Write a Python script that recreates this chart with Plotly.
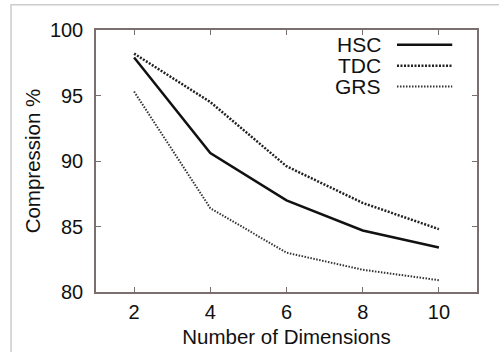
import plotly.graph_objects as go

# Compression percentage versus number of dimensions for three schemes
dimensions = [2, 4, 6, 8, 10]
hsc = [97.9, 90.6, 87.0, 84.7, 83.4]
tdc = [98.2, 94.5, 89.6, 86.8, 84.8]
grs = [95.3, 86.4, 83.0, 81.7, 80.9]

series = [
    ("HSC", hsc, dict(color="#111111", width=2.5, dash="solid")),
    ("TDC", tdc, dict(color="#222222", width=2.5, dash="2px,1.5px")),
    ("GRS", grs, dict(color="#333333", width=2, dash="1.5px,1.5px")),
]

x_ticks = [2, 4, 6, 8, 10]
y_ticks = [80, 85, 90, 95, 100]

font = "Liberation Sans, Arial, sans-serif"
axis_color = "#7a6e6e"
text_color = "#111111"

fig = go.Figure()
for name, vals, line in series:
    fig.add_trace(go.Scatter(x=dimensions, y=vals, mode="lines", name=name,
                             line=line, showlegend=False))

axis_common = dict(
    showgrid=False, zeroline=False, showline=True, linecolor=axis_color,
    linewidth=1.5, mirror="ticks", ticks="inside", ticklen=5,
    tickcolor=axis_color, tickwidth=1.2, automargin=False,
    tickfont=dict(family=font, size=20, color=text_color),
)

fig.update_layout(
    width=499, height=352,
    margin=dict(l=96, r=22, t=30, b=60),
    paper_bgcolor="white", plot_bgcolor="white",
    xaxis=dict(range=[1, 11], tickvals=x_ticks, ticklabelstandoff=1,
               title=dict(text="Number of Dimensions", standoff=8,
                          font=dict(family=font, size=20.5, color=text_color)),
               **axis_common),
    yaxis=dict(range=[80, 100], tickvals=y_ticks, ticklabelstandoff=7,
               title=dict(text="Compression %", standoff=4,
                          font=dict(family=font, size=20.5, color=text_color)),
               **axis_common),
)

# Legend: right-aligned labels with line samples to their right
legend_y = [0.944, 0.864, 0.784]
for (name, vals, line), ly in zip(series, legend_y):
    fig.add_annotation(xref="paper", yref="paper", x=0.752, y=ly, text=name,
                       showarrow=False, xanchor="right", yanchor="middle",
                       font=dict(family=font, size=21, color=text_color))
    fig.add_shape(type="line", xref="paper", yref="paper",
                  x0=0.79, x1=0.935, y0=ly, y1=ly, line=line)

# Light frame along the top and left of the figure
fig.add_shape(type="rect", xref="paper", yref="paper",
              x0=-0.223, x1=1.2, y0=-0.4, y1=1.096,
              line=dict(color="#cccccc", width=1.5), layer="below")

fig.write_html("out.html")
